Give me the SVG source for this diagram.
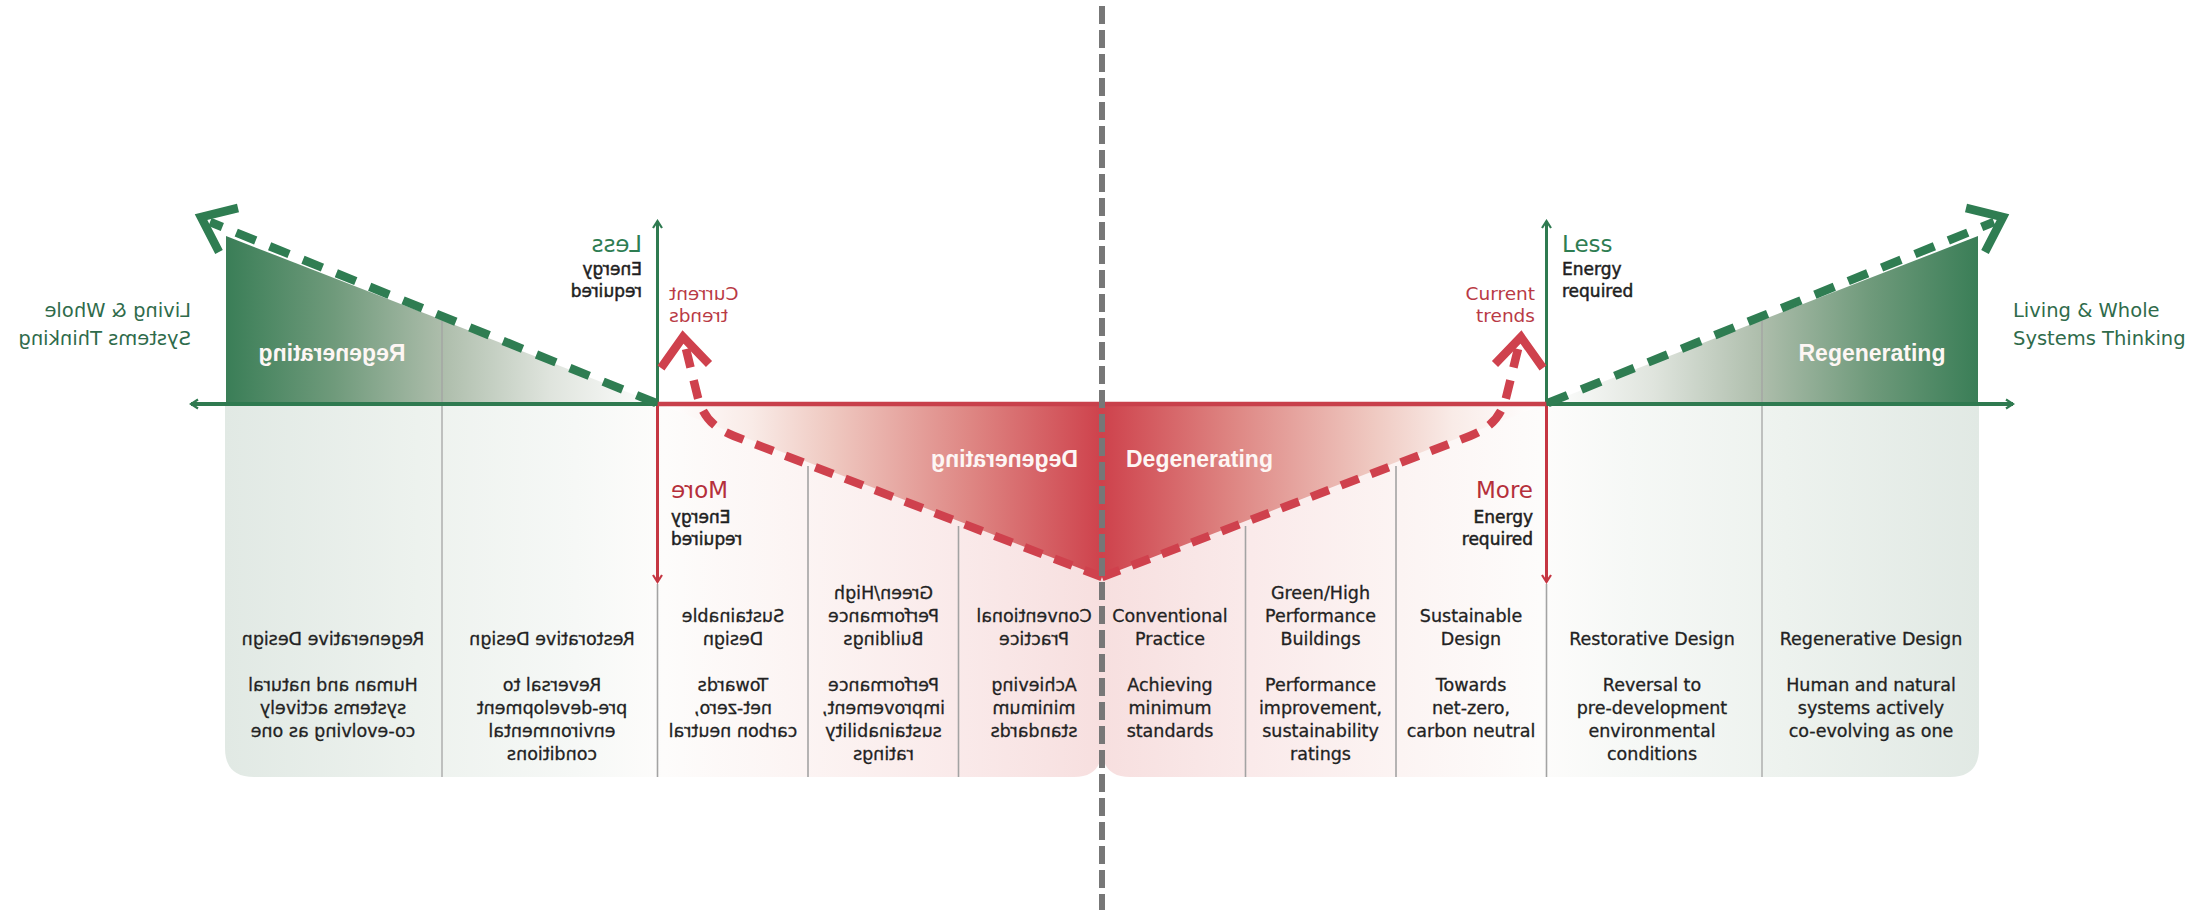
<svg xmlns="http://www.w3.org/2000/svg" width="2204" height="910" viewBox="0 0 2204 910">
<style>
.panel{fill:url(#panelGrad);}
.redfill{fill:url(#redGrad);}
.greenfill{fill:url(#greenGrad);}
.div{stroke:#a3a3a3;stroke-width:1.6;fill:none;}
.axG{stroke:#2f7a50;stroke-width:3;fill:none;}
.axR{stroke:#c53642;stroke-width:3;fill:none;}
.axGh{stroke:#2f7a50;stroke-width:4;fill:none;}
.axRh{stroke:#c8404b;stroke-width:4.5;fill:none;}
.dashR{stroke:#cf414d;stroke-width:8.5;fill:none;stroke-dasharray:19 13;}
.dashG{stroke:#2f7d52;stroke-width:8.5;fill:none;stroke-dasharray:21 15;}
.chevR{stroke:#cf414d;stroke-width:8.5;fill:none;stroke-linejoin:miter;}
.chevG{stroke:#2f7d52;stroke-width:8.5;fill:none;stroke-linejoin:miter;}
.body{font-family:"DejaVu Sans","Liberation Sans",sans-serif;font-size:17.5px;fill:#222;stroke:#222;stroke-width:0.3;text-anchor:middle;}
.zone{font-family:"Liberation Sans",Arial,sans-serif;font-weight:bold;font-size:23px;fill:#fdf6f4;}
.big{font-family:"DejaVu Sans","Liberation Sans",sans-serif;font-size:23px;}
.small{font-family:"DejaVu Sans","Liberation Sans",sans-serif;font-size:17px;fill:#1e1e1e;stroke:#1e1e1e;stroke-width:0.5;}
.trend{font-family:"DejaVu Sans","Liberation Sans",sans-serif;font-size:18.5px;fill:#b93a45;text-anchor:end;}
.living{font-family:"DejaVu Sans","Liberation Sans",sans-serif;font-size:19.5px;fill:#2f6b4b;}
.center{stroke:#777;stroke-width:6;stroke-dasharray:18 6;fill:none;}
</style>
<defs>
<linearGradient id="panelGrad" x1="0" y1="0" x2="1" y2="0">
<stop offset="0" stop-color="#f7dfdf"/>
<stop offset="0.17" stop-color="#faeaea"/>
<stop offset="0.34" stop-color="#fcf4f3"/>
<stop offset="0.5" stop-color="#fdfcfb"/>
<stop offset="0.6" stop-color="#f6f8f6"/>
<stop offset="0.78" stop-color="#edf2ee"/>
<stop offset="1" stop-color="#e1e9e4"/>
</linearGradient>
<linearGradient id="redGrad" x1="0" y1="0" x2="1" y2="0">
<stop offset="0" stop-color="#ce424c"/>
<stop offset="0.3" stop-color="#de8683"/>
<stop offset="0.62" stop-color="#efc9c1"/>
<stop offset="0.8" stop-color="#f9ebe7"/>
<stop offset="1" stop-color="#ffffff"/>
</linearGradient>
<linearGradient id="greenGrad" x1="0" y1="0" x2="1" y2="0">
<stop offset="0" stop-color="#ffffff"/>
<stop offset="0.25" stop-color="#dfe4dd"/>
<stop offset="0.5" stop-color="#adbdab"/>
<stop offset="0.75" stop-color="#6f9a7b"/>
<stop offset="1" stop-color="#3a7e57"/>
</linearGradient>
<marker id="ahG" viewBox="0 0 12 12" refX="10" refY="6" markerWidth="12" markerHeight="12" markerUnits="userSpaceOnUse" orient="auto">
<path d="M3,1.5 L10,6 L3,10.5" fill="none" stroke="#2f7a50" stroke-width="2.2"/>
</marker>
<marker id="ahR" viewBox="0 0 12 12" refX="10" refY="6" markerWidth="12" markerHeight="12" markerUnits="userSpaceOnUse" orient="auto">
<path d="M3,1.5 L10,6 L3,10.5" fill="none" stroke="#c53642" stroke-width="2.2"/>
</marker>
</defs>
<rect width="2204" height="910" fill="#ffffff"/>

<!-- RIGHT HALF -->
<g id="right-half">
<g id="r-panel"><path class="panel" d="M1102,404 H1979 V748 Q1979,777 1950,777 H1130 Q1102,777 1102,748 Z"/></g>
<g id="r-degenerating"><polygon class="redfill" points="1102,406 1540,406 1102,577"/><text class="zone" x="1126" y="467">Degenerating</text></g>
<g id="r-regenerating"><polygon class="greenfill" points="1546,404 1978,236 1978,404"/><text class="zone" x="1872" y="361" text-anchor="middle">Regenerating</text></g>
<g id="r-dividers" class="div">
<line x1="1245.5" y1="526" x2="1245.5" y2="777"/>
<line x1="1396" y1="466" x2="1396" y2="777"/>
<line x1="1546.5" y1="584" x2="1546.5" y2="777"/>
<line x1="1762" y1="321" x2="1762" y2="777" stroke-opacity="0.8"/>
</g>
<g id="r-connectors">
<line class="axG" x1="1546.5" y1="404" x2="1546.5" y2="221" marker-end="url(#ahG)"/>
<line class="axR" x1="1546.5" y1="404" x2="1546.5" y2="582" marker-end="url(#ahR)"/>
<line class="axRh" x1="1102" y1="404" x2="1546.5" y2="404"/>
<line class="axGh" x1="1546.5" y1="404" x2="2013" y2="404" marker-end="url(#ahG)"/>
<path class="dashR" d="M1102,577 L1470,436 C1490,428 1500,418 1506,398 L1518,349"/>
<path class="chevR" d="M1495,364 L1521,337 L1543,368"/>
<path class="dashG" d="M1548,403 L1994,222"/>
<path class="chevG" d="M1966,208 L2003,217 L1985,252"/>
</g>
<g id="r-less"><text class="big" x="1562" y="252" fill="#2e7d52">Less</text><text class="small" x="1562" y="275">Energy</text><text class="small" x="1562" y="297">required</text></g>
<g id="r-more"><text class="big" x="1533" y="498" fill="#b52f3b" text-anchor="end" font-size="24">More</text><text class="small" x="1533" y="523" text-anchor="end">Energy</text><text class="small" x="1533" y="545" text-anchor="end">required</text></g>
<g id="r-current"><text class="trend" x="1535" y="300">Current</text><text class="trend" x="1535" y="322">trends</text></g>
<g id="r-living"><text class="living" x="2013" y="317">Living &amp; Whole</text><text class="living" x="2013" y="345">Systems Thinking</text></g>
<g id="r-col-conventional">
<text class="body" x="1170" y="622">Conventional</text><text class="body" x="1170" y="644.5">Practice</text>
<text class="body" x="1170" y="691">Achieving</text><text class="body" x="1170" y="713.5">minimum</text><text class="body" x="1170" y="736.5">standards</text>
</g>
<g id="r-col-green">
<text class="body" x="1320.5" y="599">Green/High</text><text class="body" x="1320.5" y="622">Performance</text><text class="body" x="1320.5" y="644.5">Buildings</text>
<text class="body" x="1320.5" y="691">Performance</text><text class="body" x="1320.5" y="713.5">improvement,</text><text class="body" x="1320.5" y="736.5">sustainability</text><text class="body" x="1320.5" y="759.5">ratings</text>
</g>
<g id="r-col-sustainable">
<text class="body" x="1471" y="622">Sustainable</text><text class="body" x="1471" y="644.5">Design</text>
<text class="body" x="1471" y="691">Towards</text><text class="body" x="1471" y="713.5">net-zero,</text><text class="body" x="1471" y="736.5">carbon neutral</text>
</g>
<g id="r-col-restorative">
<text class="body" x="1652" y="644.5">Restorative Design</text>
<text class="body" x="1652" y="691">Reversal to</text><text class="body" x="1652" y="713.5">pre-development</text><text class="body" x="1652" y="736.5">environmental</text><text class="body" x="1652" y="759.5">conditions</text>
</g>
<g id="r-col-regenerative">
<text class="body" x="1871" y="644.5">Regenerative Design</text>
<text class="body" x="1871" y="691">Human and natural</text><text class="body" x="1871" y="713.5">systems actively</text><text class="body" x="1871" y="736.5">co-evolving as one</text>
</g>
</g>

<!-- LEFT HALF (mirror image) -->
<g id="left-half" transform="matrix(-1 0 0 1 2204 0)">
<g id="l-panel"><path class="panel" d="M1102,404 H1979 V748 Q1979,777 1950,777 H1130 Q1102,777 1102,748 Z"/></g>
<g id="l-degenerating"><polygon class="redfill" points="1102,406 1540,406 1102,577"/><text class="zone" x="1126" y="467">Degenerating</text></g>
<g id="l-regenerating"><polygon class="greenfill" points="1546,404 1978,236 1978,404"/><text class="zone" x="1872" y="361" text-anchor="middle">Regenerating</text></g>
<g id="l-dividers" class="div">
<line x1="1245.5" y1="526" x2="1245.5" y2="777"/>
<line x1="1396" y1="466" x2="1396" y2="777"/>
<line x1="1546.5" y1="584" x2="1546.5" y2="777"/>
<line x1="1762" y1="321" x2="1762" y2="777" stroke-opacity="0.8"/>
</g>
<g id="l-connectors">
<line class="axG" x1="1546.5" y1="404" x2="1546.5" y2="221" marker-end="url(#ahG)"/>
<line class="axR" x1="1546.5" y1="404" x2="1546.5" y2="582" marker-end="url(#ahR)"/>
<line class="axRh" x1="1102" y1="404" x2="1546.5" y2="404"/>
<line class="axGh" x1="1546.5" y1="404" x2="2013" y2="404" marker-end="url(#ahG)"/>
<path class="dashR" d="M1102,577 L1470,436 C1490,428 1500,418 1506,398 L1518,349"/>
<path class="chevR" d="M1495,364 L1521,337 L1543,368"/>
<path class="dashG" d="M1548,403 L1994,222"/>
<path class="chevG" d="M1966,208 L2003,217 L1985,252"/>
</g>
<g id="l-less"><text class="big" x="1562" y="252" fill="#2e7d52">Less</text><text class="small" x="1562" y="275">Energy</text><text class="small" x="1562" y="297">required</text></g>
<g id="l-more"><text class="big" x="1533" y="498" fill="#b52f3b" text-anchor="end" font-size="24">More</text><text class="small" x="1533" y="523" text-anchor="end">Energy</text><text class="small" x="1533" y="545" text-anchor="end">required</text></g>
<g id="l-current"><text class="trend" x="1535" y="300">Current</text><text class="trend" x="1535" y="322">trends</text></g>
<g id="l-living"><text class="living" x="2013" y="317">Living &amp; Whole</text><text class="living" x="2013" y="345">Systems Thinking</text></g>
<g id="l-col-conventional">
<text class="body" x="1170" y="622">Conventional</text><text class="body" x="1170" y="644.5">Practice</text>
<text class="body" x="1170" y="691">Achieving</text><text class="body" x="1170" y="713.5">minimum</text><text class="body" x="1170" y="736.5">standards</text>
</g>
<g id="l-col-green">
<text class="body" x="1320.5" y="599">Green/High</text><text class="body" x="1320.5" y="622">Performance</text><text class="body" x="1320.5" y="644.5">Buildings</text>
<text class="body" x="1320.5" y="691">Performance</text><text class="body" x="1320.5" y="713.5">improvement,</text><text class="body" x="1320.5" y="736.5">sustainability</text><text class="body" x="1320.5" y="759.5">ratings</text>
</g>
<g id="l-col-sustainable">
<text class="body" x="1471" y="622">Sustainable</text><text class="body" x="1471" y="644.5">Design</text>
<text class="body" x="1471" y="691">Towards</text><text class="body" x="1471" y="713.5">net-zero,</text><text class="body" x="1471" y="736.5">carbon neutral</text>
</g>
<g id="l-col-restorative">
<text class="body" x="1652" y="644.5">Restorative Design</text>
<text class="body" x="1652" y="691">Reversal to</text><text class="body" x="1652" y="713.5">pre-development</text><text class="body" x="1652" y="736.5">environmental</text><text class="body" x="1652" y="759.5">conditions</text>
</g>
<g id="l-col-regenerative">
<text class="body" x="1871" y="644.5">Regenerative Design</text>
<text class="body" x="1871" y="691">Human and natural</text><text class="body" x="1871" y="713.5">systems actively</text><text class="body" x="1871" y="736.5">co-evolving as one</text>
</g>
</g>

<g id="center-divider"><line class="center" x1="1102" y1="6" x2="1102" y2="910"/></g>
</svg>
